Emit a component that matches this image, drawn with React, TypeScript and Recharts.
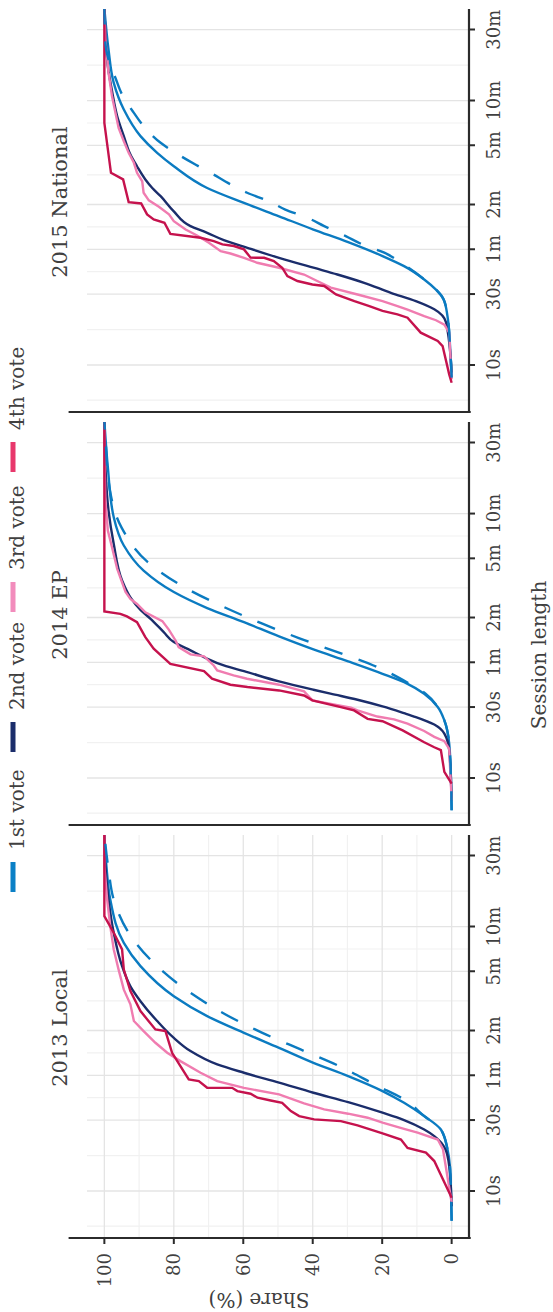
import React from "react";
import {
  LineChart,
  Line,
  XAxis,
  YAxis,
  CartesianGrid,
  ReferenceLine,
  Legend,
} from "recharts";

// each point: [session length in seconds, share of sessions in %]
type Pt = [number, number];

const sessionTicks = [10, 30, 60, 120, 300, 600, 1800];
const sessionTickLabels = ["10s", "30s", "1m", "2m", "5m", "10m", "30m"];
const sessionMinor = [5.8, 17.3, 42.4, 84.9, 189.7, 424, 1039];
const shareTicks = [0, 20, 40, 60, 80, 100];
const shareMinor = [10, 30, 50, 70, 90];

const voteLabels = ["1st vote", "2nd vote", "3rd vote", "4th vote"];
const voteColors = ["#0b7bc1", "#1b2d6b", "#f07cb0", "#c5124d"];
const legendKeyColors = ["#0b80c6", "#1b2d6b", "#f28cbc", "#e8386c"];

const panelTitles = ["2013 Local", "2014 EP", "2015 National"];

// 2013 Local
const local1st: Pt[] = [[6.3, 0], [10, 0.2], [14.7, 0.5], [19.1, 1.2], [25.9, 3.1], [31.9, 7.9], [39.2, 13.7], [47, 19.9], [59.3, 29.8], [72.8, 39.8], [91.8, 49.7], [115.8, 59.8], [150, 70.4], [204, 80], [325, 89.6], [466, 94.4], [912, 98.3], [1527, 99.4], [2500, 100]];
const local1stDashed: Pt[] = [[6.3, 0], [10, 0.2], [14.7, 0.5], [19.1, 1.2], [25.9, 3.1], [31.9, 7.9], [41.3, 13.7], [50.8, 21.3], [69.2, 32.4], [89.5, 43.5], [115.8, 54.5], [153.8, 65.1], [215, 75.2], [317, 84.3], [503, 92], [912, 97.3], [1449, 98.8], [2500, 100]];
const local2nd: Pt[] = [[7.9, 0], [14.7, 0.7], [19.1, 1.8], [23.4, 5], [25.9, 7.9], [30, 13.7], [33.6, 19.9], [39.6, 29.8], [45.8, 39.8], [53.5, 49.7], [62.4, 59.8], [71, 67.5], [87.3, 75.2], [107, 80], [139, 84.8], [189, 89.6], [238, 92.5], [325, 94.9], [545, 97.3], [912, 98.8], [1527, 99.7], [2500, 100]];
const local3rd: Pt[] = [[8.4, 0], [19.1, 2.5], [22.2, 4], [24.7, 9.8], [26.2, 13.7], [28.8, 19.9], [31.1, 24.2], [33.1, 29.8], [35.4, 36.7], [38.8, 42.5], [44.6, 49.7], [49.4, 59.8], [54.8, 67.5], [62.4, 72.3], [74.7, 78.1], [85, 81.9], [99.3, 85.3], [119, 88.7], [139, 91.5], [180, 92.5], [226, 94.4], [308, 95.9], [421, 97.3], [603, 98.3], [912, 99.2], [1527, 100], [2500, 100]];
const local4th: Pt[] = [[9, 0], [15.9, 5], [18.1, 7.4], [19.5, 12.7], [22.2, 14.6], [24.4, 19.9], [27.6, 27.1], [29.5, 31.9], [30.3, 39.6], [31.9, 43.9], [34.5, 46.3], [39.2, 48.8], [40.6, 52.1], [42.4, 55.9], [45.1, 57.9], [47, 61.7], [49.4, 63.2], [49.5, 70.4], [54.8, 72.8], [56.2, 75.7], [69.1, 78.1], [85, 80.5], [119, 82.4], [122, 85.3], [162, 89.6], [221, 92.5], [308, 94.4], [421, 94.9], [545, 97.3], [705, 100], [2500, 100]];

// 2014 EP
const ep1st: Pt[] = [[6.06, 0], [10, 0.2], [17, 0.7], [24.4, 2.1], [30, 4], [36.9, 7.9], [43, 12.7], [50.2, 19.9], [60.8, 29.8], [73.2, 39.8], [89.5, 49.7], [111.7, 59.8], [139, 70.4], [178, 80], [248, 88.7], [366, 94.4], [567, 97.3], [1230, 99], [2500, 100]];
const ep1stDashed: Pt[] = [[6.06, 0], [10, 0.2], [17, 0.7], [24.4, 2.1], [30, 4], [36.9, 7.5], [43.5, 12.5], [57.1, 22.5], [71, 33.5], [87.3, 44], [109, 54.5], [141, 65.5], [192, 77], [283, 87.5], [481, 95], [893, 98.5], [1955, 99.7], [2500, 100]];
const ep2nd: Pt[] = [[7.08, 0], [15.4, 0.7], [19.9, 2.1], [22.9, 5], [25.7, 10.3], [27.3, 13.7], [30.3, 19.9], [33.6, 27.1], [36.9, 34.9], [39.2, 39.8], [44.6, 49.7], [52.3, 59.8], [57.1, 65.6], [64.3, 70.9], [72.1, 75.2], [82, 80], [95.7, 82.9], [117.6, 86.7], [135, 89.6], [164, 92.5], [213, 94.9], [375, 97.3], [628, 98.8], [1230, 99.7], [2500, 100]];
const ep3rd: Pt[] = [[7.08, 0], [15.7, 0.7], [17.7, 2.1], [18.9, 5], [20.7, 7.9], [23.2, 12.7], [24.8, 16.6], [25.9, 21.4], [28.5, 27.1], [29.7, 29], [32.1, 36.7], [33.3, 40.1], [38.2, 42.5], [42.4, 49.7], [46.5, 58.9], [49, 62.8], [52.9, 67.5], [57.1, 68.5], [65.7, 71.3], [67.8, 75.2], [75.9, 78.6], [84.1, 79.5], [99.2, 81.4], [113.5, 83.3], [130, 88.2], [148, 90.6], [160, 92.5], [178, 93.9], [207, 94.9], [255, 96.3], [356, 97.8], [461, 99], [734, 99.7], [1586, 100], [2500, 100]];
const ep4th: Pt[] = [[9.16, 0], [11, 2.1], [15.4, 3.1], [16.1, 5], [17.4, 7.9], [20.9, 14.1], [24.1, 19.9], [25, 24.2], [28.5, 28.1], [30, 31.9], [33.3, 40.1], [35.9, 42.5], [38.8, 49.7], [40.9, 58.8], [42.4, 63.7], [46.5, 69], [52.3, 71.3], [58.6, 81], [74, 85.8], [88.5, 88.2], [111.7, 90.6], [122, 93.5], [127, 95.4], [132, 100], [2500, 100]];

// 2015 National
const nat1st: Pt[] = [[8.22, 0], [12.7, 0.4], [21.3, 1.2], [27.6, 2.3], [37.6, 7.9], [46.2, 13.7], [54, 19.9], [67, 29.8], [81.5, 39.8], [100, 49.7], [123, 59.8], [155, 70.4], [217, 80], [267, 84.8], [346, 89.6], [522, 94.4], [789, 97.3], [1321, 98.8], [2500, 100]];
const nat1stDashed: Pt[] = [[8.22, 0], [12.7, 0.4], [21.3, 1.2], [27.6, 2.3], [37.6, 7.9], [48.7, 14.6], [56.9, 19.4], [64.7, 25.7], [73.6, 30.5], [85.9, 36.7], [97.7, 41.5], [111, 47.9], [126, 52.6], [144, 58.9], [164, 63.7], [196, 69.4], [223, 73.8], [267, 79.5], [312, 83.8], [404, 88.7], [496, 91.5], [659, 94.9], [851, 96.8], [1132, 98.8], [1465, 99.7], [2500, 100]];
const nat2nd: Pt[] = [[8.88, 0], [19.3, 1.6], [23.7, 5], [26.9, 10.3], [30.6, 17.5], [35.7, 25.2], [40.6, 32.9], [45.1, 39.8], [52.6, 49.7], [61.4, 58.8], [69.2, 65.6], [77.4, 70.4], [85.9, 75.2], [108, 80], [136.6, 83.8], [155, 86.2], [177, 88.2], [217, 90.6], [260, 92.5], [346, 94.4], [471, 96.3], [676, 97.7], [1021, 99], [1710, 99.7], [2500, 100]];
const nat3rd: Pt[] = [[8, 0], [16.5, 0.7], [18.7, 2.1], [20, 4.5], [21.3, 7.9], [23.6, 12.7], [24.9, 15.6], [26.9, 19.9], [29.8, 27.1], [33.1, 34.8], [36.7, 38.7], [40.6, 42.5], [45.1, 49.7], [48.7, 56], [52.6, 59.8], [56.2, 63.7], [58.3, 66.5], [66.4, 69.9], [74.3, 73.3], [81.5, 76.6], [92.8, 80], [103, 81.4], [116, 84.3], [128, 87.2], [144, 88.7], [172, 89.1], [196, 90.6], [229, 91.5], [267, 93], [320, 94.4], [393, 95.9], [641, 97.8], [920, 98.8], [1542, 99.7], [2500, 100]];
const nat4th: Pt[] = [[7.6, 0], [8.65, 0.7], [13.4, 2.6], [14.5, 4], [16.5, 8.9], [20.8, 12.7], [21.9, 15.6], [23.1, 19.9], [24.9, 23.7], [26.9, 28], [29.8, 33.3], [34, 36.7], [34.8, 40.1], [36.7, 44.4], [39.6, 47.3], [45.1, 48.8], [50, 51.2], [52.6, 54], [52.7, 57.9], [59.9, 59.8], [63.1, 62.7], [64.7, 66], [68.1, 68.5], [71.7, 72.3], [76.2, 81], [90.4, 82.7], [95.2, 85.8], [103, 87.7], [122, 89.4], [124.5, 93], [177, 94.6], [196, 98.1], [425, 100], [2500, 100]];

const panelSeries: Pt[][][] = [
  [local1st, local2nd, local3rd, local4th, local1stDashed],
  [ep1st, ep2nd, ep3rd, ep4th, ep1stDashed],
  [nat1st, nat2nd, nat3rd, nat4th, nat1stDashed],
];

// page is drawn landscape and turned a quarter turn
const FULL_W = 1312;
const FULL_H = 553;
const PLOT_W = 403;
const PLOT_TOP = 87;
const PLOT_BOTTOM = 469;
const AXIS_W = 74;
const RIGHT_PAD = 6;
const PANEL_LEFTS = [74, 487, 900];

const SESSION_DOMAIN: [number, number] = [4.83, 2477];
const SHARE_DOMAIN: [number, number] = [-5, 105];

const FONT = "'DejaVu Serif', serif";
const INK = "#404040";
const AXIS_INK = "#2b2b2b";

const toPoints = (pts: Pt[]) => pts.map(([t, share]) => ({ t, share }));

const formatSession = (v: number) => sessionTickLabels[sessionTicks.indexOf(v)] ?? "";

function VoteLegend() {
  return (
    <svg width={560} height={36}>
      {voteLabels.map((label, i) => (
        <g key={label}>
          <rect x={i * 140} y={10.5} width={30} height={5} fill={legendKeyColors[i]} />
          <text x={i * 140 + 42} y={24} fontSize={20} fontFamily={FONT} fill={INK}>
            {label}
          </text>
        </g>
      ))}
    </svg>
  );
}

function Panel({ index }: { index: number }) {
  const chartLeft = PANEL_LEFTS[index] - AXIS_W;
  const series = panelSeries[index];
  const first = index === 0;

  return (
    <div style={{ position: "absolute", left: chartLeft, top: 0 }}>
      <LineChart
        width={AXIS_W + PLOT_W + RIGHT_PAD}
        height={FULL_H}
        margin={{ top: PLOT_TOP, right: RIGHT_PAD, bottom: 0, left: 0 }}
      >
        <CartesianGrid
          stroke="#f1f1f1"
          strokeWidth={1.2}
          verticalValues={sessionMinor}
          horizontalValues={shareMinor}
        />
        <CartesianGrid
          stroke="#e4e4e4"
          strokeWidth={1.3}
          verticalValues={sessionTicks}
          horizontalValues={shareTicks}
        />
        <XAxis
          type="number"
          dataKey="t"
          scale="log"
          domain={SESSION_DOMAIN}
          allowDataOverflow
          ticks={sessionTicks}
          interval={0}
          tickFormatter={formatSession}
          height={FULL_H - PLOT_BOTTOM}
          tickSize={6}
          tickMargin={12}
          axisLine={{ stroke: AXIS_INK, strokeWidth: 2.2 }}
          tickLine={{ stroke: AXIS_INK, strokeWidth: 2 }}
          tick={{ fill: INK, fontSize: 18, fontFamily: FONT }}
        />
        <YAxis
          type="number"
          dataKey="share"
          domain={SHARE_DOMAIN}
          allowDataOverflow
          ticks={shareTicks}
          interval={0}
          width={AXIS_W}
          axisLine={false}
          tickSize={6}
          tickMargin={9}
          tickLine={first ? { stroke: AXIS_INK, strokeWidth: 2 } : false}
          tick={first ? { fill: INK, fontSize: 18, fontFamily: FONT } : false}
        />
        {/* left axis rule runs up past the panel, under the facet title */}
        <ReferenceLine
          segment={[
            { x: SESSION_DOMAIN[0], y: -5.5 },
            { x: SESSION_DOMAIN[0], y: 110.3 },
          ]}
          stroke={AXIS_INK}
          strokeWidth={2.2}
          ifOverflow="visible"
        />
        {series.slice(0, 4).map((pts, i) => (
          <Line
            key={voteLabels[i]}
            data={toPoints(pts)}
            dataKey="share"
            name={voteLabels[i]}
            type={i < 2 ? "monotoneX" : "linear"}
            stroke={voteColors[i]}
            strokeWidth={2.4}
            dot={false}
            isAnimationActive={false}
          />
        ))}
        <Line
          data={toPoints(series[4])}
          dataKey="share"
          name="1st vote (dashed)"
          legendType="none"
          type="monotoneX"
          stroke={voteColors[0]}
          strokeWidth={2.4}
          strokeDasharray="19 17"
          dot={false}
          isAnimationActive={false}
        />
        <text
          x={AXIS_W + 210}
          y={67}
          textAnchor="middle"
          fontSize={21}
          fontFamily={FONT}
          fill={INK}
        >
          {panelTitles[index]}
        </text>
        {first && (
          <text
            x={19}
            y={259}
            transform="rotate(-90, 19, 259)"
            textAnchor="middle"
            fontSize={20}
            fontFamily={FONT}
            fill={INK}
          >
            Share (%)
          </text>
        )}
        {index === 1 && (
          <text
            x={657 - chartLeft}
            y={546}
            textAnchor="middle"
            fontSize={20}
            fontFamily={FONT}
            fill={INK}
          >
            Session length
          </text>
        )}
        {index === 1 && (
          <Legend
            layout="horizontal"
            verticalAlign="middle"
            align="center"
            wrapperStyle={{ top: 0, left: 420 - chartLeft, width: 560, height: 36 }}
            content={() => <VoteLegend />}
          />
        )}
      </LineChart>
    </div>
  );
}

export default function App() {
  return (
    <div
      style={{
        position: "absolute",
        left: 0,
        top: 0,
        width: FULL_H,
        height: FULL_W,
        overflow: "hidden",
        background: "#ffffff",
      }}
    >
      <div
        style={{
          position: "absolute",
          left: 0,
          top: 0,
          width: FULL_W,
          height: FULL_H,
          transformOrigin: "0 0",
          transform: `translateY(${FULL_W}px) rotate(-90deg)`,
        }}
      >
        {[0, 1, 2].map((i) => (
          <Panel key={i} index={i} />
        ))}
      </div>
    </div>
  );
}
